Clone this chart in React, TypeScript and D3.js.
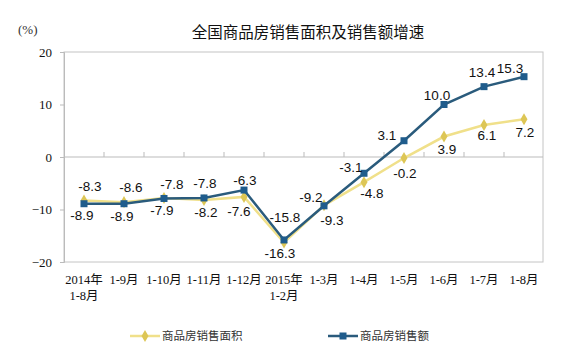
import React, { useEffect, useRef } from 'react';
import * as d3 from 'd3';

const categories = [
  ['2014年', '1-8月'], ['1-9月'], ['1-10月'], ['1-11月'], ['1-12月'],
  ['2015年', '1-2月'], ['1-3月'], ['1-4月'], ['1-5月'], ['1-6月'], ['1-7月'], ['1-8月'],
];
const areaGrowth = [-8.3, -8.6, -7.8, -8.2, -7.6, -16.3, -9.2, -4.8, -0.2, 3.9, 6.1, 7.2];
const salesGrowth = [-8.9, -8.9, -7.9, -7.8, -6.3, -15.8, -9.3, -3.1, 3.1, 10.0, 13.4, 15.3];
const yTicks = [20, 10, 0, -10, -20];
const seriesNames = ['商品房销售面积', '商品房销售额'];

// label nudges (px) relative to each point, to match the original placement
const areaLabelOffsets = [
  [6, -14], [7, -15], [8, -14], [2, 12], [-5, 14], [-4, 11],
  [-13, -8], [8, 11], [1, 15], [3, 13], [3, 10], [1, 13],
];
const salesLabelOffsets = [
  [-2, 11], [-2, 12], [-2, 12], [1, -15], [1, -10], [1, -23],
  [8, 14], [-13, -6], [-17, -6], [-7, -9], [-2, -15], [-14, -9],
];

const YELLOW_LINE = '#f0e08a';
const YELLOW_MARK = '#ddc655';
const BLUE_LINE = '#2a5b7c';
const BLUE_MARK = '#1f5c8c';

const App = () => {
  const ref = useRef<SVGSVGElement>(null);

  useEffect(() => {
    document.body.style.margin = '0';
    const svg = d3.select(ref.current);
    svg.selectAll('*').remove();

    const left = 64, right = 543, top = 52, bottom = 262;

    const x = d3.scaleBand<number>()
      .domain(d3.range(categories.length))
      .range([left, right + 1]);
    const y = d3.scaleLinear().domain([-20, 20]).range([bottom, top]);
    const cx = (i: number) => (x(i) as number) + x.bandwidth() / 2;

    svg.append('rect').attr('width', 585).attr('height', 361).attr('fill', '#fff');

    // title
    svg.append('text')
      .attr('x', 308).attr('y', 38)
      .attr('text-anchor', 'middle')
      .attr('font-family', '"Noto Sans CJK SC", sans-serif')
      .attr('font-size', 15.5)
      .attr('fill', '#111')
      .text('全国商品房销售面积及销售额增速');

    svg.append('text')
      .attr('x', 18).attr('y', 34)
      .attr('font-family', '"Liberation Serif", serif')
      .attr('font-size', 13)
      .attr('fill', '#333')
      .text('(%)');

    // plot frame
    svg.append('rect')
      .attr('x', left).attr('y', top)
      .attr('width', right - left).attr('height', bottom - top)
      .attr('fill', 'none').attr('stroke', '#c4c4c4').attr('stroke-width', 1);

    // y axis
    const yAxis = svg.append('g').attr('transform', `translate(${left},0)`)
      .call(d3.axisLeft(y).tickValues(yTicks).tickSize(4).tickPadding(8));
    yAxis.select('.domain').attr('stroke', '#bbb');
    yAxis.selectAll('line').attr('stroke', '#bbb');
    yAxis.selectAll('text')
      .attr('font-family', '"Liberation Serif", serif')
      .attr('font-size', 13)
      .attr('fill', '#111');

    // zero line with category tick marks
    svg.append('line')
      .attr('x1', left).attr('x2', right)
      .attr('y1', y(0)).attr('y2', y(0))
      .attr('stroke', '#bbb');
    svg.append('g').selectAll('line')
      .data(d3.range(1, categories.length))
      .join('line')
      .attr('x1', d => x(d) as number).attr('x2', d => x(d) as number)
      .attr('y1', y(0)).attr('y2', y(0) - 5)
      .attr('stroke', '#bbb');

    // x labels
    const xl = svg.append('g');
    categories.forEach((lines, i) => {
      lines.forEach((t, j) => {
        xl.append('text')
          .attr('x', cx(i)).attr('y', 284 + j * 16)
          .attr('text-anchor', 'middle')
          .attr('font-family', '"Liberation Serif", "Noto Sans CJK SC", serif')
          .attr('font-size', 12.5)
          .attr('fill', '#111')
          .text(t);
      });
    });

    const line = d3.line<number>()
      .x((_, i) => cx(i))
      .y(d => y(d));

    // area series (yellow)
    svg.append('path')
      .attr('d', line(areaGrowth))
      .attr('fill', 'none').attr('stroke', YELLOW_LINE).attr('stroke-width', 2.5);
    const diamond = d3.symbol().type(d3.symbolDiamond).size(42);
    svg.append('g').selectAll('path')
      .data(areaGrowth)
      .join('path')
      .attr('d', diamond)
      .attr('transform', (d, i) => `translate(${cx(i)},${y(d)})`)
      .attr('fill', YELLOW_MARK);

    // sales series (blue)
    svg.append('path')
      .attr('d', line(salesGrowth))
      .attr('fill', 'none').attr('stroke', BLUE_LINE).attr('stroke-width', 2.5);
    svg.append('g').selectAll('rect')
      .data(salesGrowth)
      .join('rect')
      .attr('x', (d, i) => cx(i) - 3.5).attr('y', d => y(d) - 3.5)
      .attr('width', 7).attr('height', 7)
      .attr('fill', BLUE_MARK);

    // data labels
    const addLabels = (vals: number[], offs: number[][]) => {
      svg.append('g').selectAll('text')
        .data(vals)
        .join('text')
        .attr('x', (d, i) => cx(i) + offs[i][0])
        .attr('y', (d, i) => y(d) + offs[i][1])
        .attr('dy', '0.36em')
        .attr('text-anchor', 'middle')
        .attr('font-family', '"Liberation Sans", Arial, sans-serif')
        .attr('font-size', 13.5)
        .attr('fill', '#111')
        .text(d => d.toFixed(1));
    };
    addLabels(areaGrowth, areaLabelOffsets);
    addLabels(salesGrowth, salesLabelOffsets);

    // legend
    const legend = [
      { name: seriesNames[0], x: 130, color: YELLOW_LINE, mark: YELLOW_MARK, kind: 'diamond' },
      { name: seriesNames[1], x: 328, color: BLUE_LINE, mark: BLUE_MARK, kind: 'square' },
    ];
    legend.forEach(l => {
      const g = svg.append('g').attr('transform', `translate(${l.x},336)`);
      g.append('line').attr('x1', 0).attr('x2', 30).attr('stroke', l.color).attr('stroke-width', 2.5);
      if (l.kind === 'diamond') {
        g.append('path').attr('d', diamond).attr('transform', 'translate(15,0)').attr('fill', l.mark);
      } else {
        g.append('rect').attr('x', 11.5).attr('y', -3.5).attr('width', 7).attr('height', 7).attr('fill', l.mark);
      }
      g.append('text')
        .attr('x', 32).attr('dy', '0.35em')
        .attr('font-family', '"Noto Sans CJK SC", sans-serif')
        .attr('font-size', 11.5)
        .attr('fill', '#333')
        .text(l.name);
    });
  }, []);

  return <svg ref={ref} width={585} height={361} style={{ display: 'block' }} />;
};

export default App;
